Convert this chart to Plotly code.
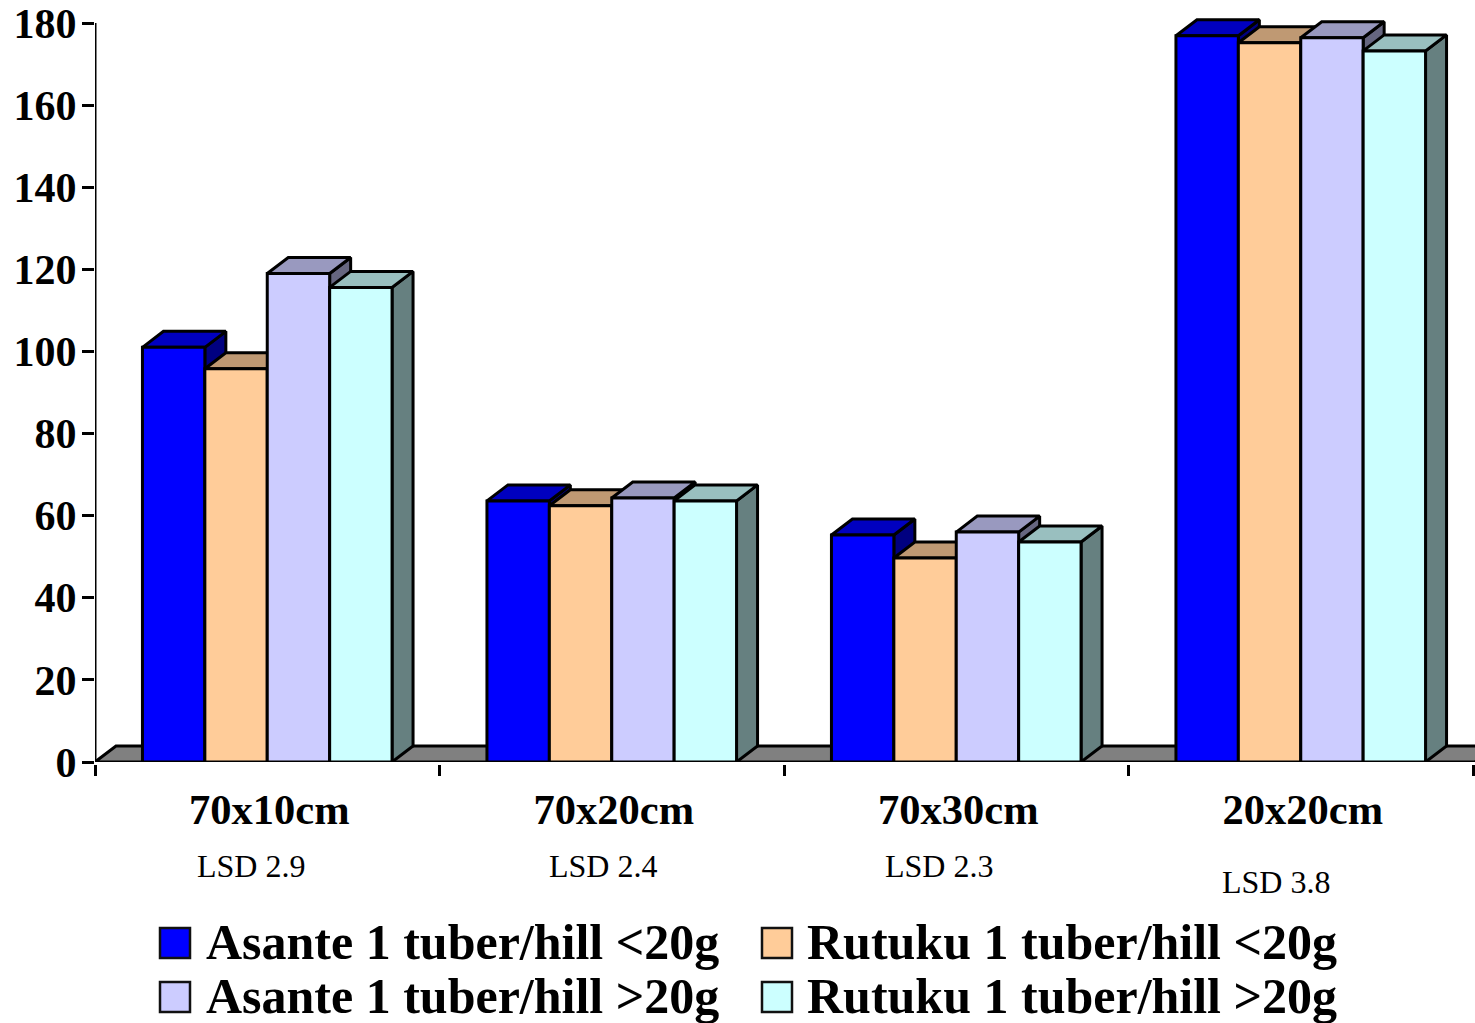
import plotly.graph_objects as go

categories = ["70x10cm", "70x20cm", "70x30cm", "20x20cm"]
lsd_labels = ["LSD 2.9", "LSD 2.4", "LSD 2.3", "LSD 3.8"]
series_names = ["Asante 1 tuber/hill <20g", "Rutuku 1 tuber/hill <20g",
                "Asante 1 tuber/hill >20g", "Rutuku 1 tuber/hill >20g"]
asante_small = [101.0, 63.6, 55.3, 176.9]
rutuku_small = [95.8, 62.4, 49.7, 175.2]
asante_large = [119.0, 64.3, 56.0, 176.4]
rutuku_large = [115.6, 63.6, 53.6, 173.2]
y_ticks = list(range(0, 181, 20))

front = ["#0000FF", "#FFCC99", "#CCCCFF", "#CCFFFF"]
top = ["#0000C0", "#BF9973", "#9999BF", "#99BFBF"]
side = ["#000080", "#806650", "#666680", "#668080"]
values = [asante_small, rutuku_small, asante_large, rutuku_large]

W, H = 1475, 1023
L, B = 95, 261
Y180 = 23                 # pixel row of the value 180
T = 8                     # plot area starts above it so the bar tops are not clipped
PX_X = 344.5
PX_Y = (H - B - Y180) / 180
Y_TOP = (H - B - T) / PX_Y
BAR = 62.4 / PX_X
DX = 21 / PX_X
DY = 16 / PX_Y
X_MAX = 0.5 + (W - L) / PX_X
LW = 3
SERIF = "Liberation Serif"
groups = [1, 2, 3, 4]

fig = go.Figure()


def poly(xs, ys, fill, z):
    fig.add_trace(go.Scatter(x=xs, y=ys, mode="lines", fill="toself", fillcolor=fill,
                             line=dict(color="black", width=LW), cliponaxis=False,
                             showlegend=False, hoverinfo="skip", zorder=z))


# floor
poly([0.5, 0.5 + DX, X_MAX + DX, X_MAX, 0.5], [0, DY, DY, 0, 0], "#808080", 0)

for s, vals in enumerate(values):
    offs = [g - 2 * BAR + s * BAR for g in groups]
    tx, ty, sx, sy = [], [], [], []
    for x0, v in zip(offs, vals):
        x1 = x0 + BAR
        tx += [x0, x0 + DX, x1 + DX, x1, x0, None]
        ty += [v, v + DY, v + DY, v, v, None]
        sx += [x1, x1 + DX, x1 + DX, x1, x1, None]
        sy += [v, v + DY, DY, 0, v, None]
    z = 2 * s + 1
    poly(sx, sy, side[s], z)
    poly(tx, ty, top[s], z)
    fig.add_trace(go.Bar(x=[o + BAR / 2 for o in offs], y=vals, width=BAR, name=series_names[s],
                         marker=dict(color=front[s], line=dict(color="black", width=LW)),
                         cliponaxis=False, showlegend=False, zorder=z + 1))

annotations = []
lsd_x = [0.953, 1.975, 2.951, 3.927]
lsd_y = [866, 866, 866, 882]
PLOT_H = H - T - B
PLOT_W = W - L
for t, x, y in zip(lsd_labels, lsd_x, lsd_y):
    annotations.append(dict(text=t, x=x, y=(H - B - y) / PLOT_H, xref="x", yref="paper", showarrow=False,
                            xanchor="center", yanchor="middle",
                            font=dict(family=SERIF, size=32, color="black")))

shapes = [dict(type="line", xref="x", yref="y", x0=0.5, x1=0.5, y0=0, y1=180,
               line=dict(color="black", width=3), layer="above")]
swatch_px = [(160, 928), (762, 928), (160, 982), (762, 982)]
text_px = [(204, 942), (805, 942), (204, 996), (805, 996)]
for s in range(4):
    sx0, sy0 = swatch_px[s]
    shapes.append(dict(type="rect", xref="paper", yref="paper",
                       x0=(sx0 - L) / PLOT_W, x1=(sx0 + 30 - L) / PLOT_W,
                       y0=(H - B - sy0) / PLOT_H, y1=(H - B - sy0 - 30) / PLOT_H,
                       fillcolor=front[s], line=dict(color="#111111", width=2.5)))
    tx0, ty0 = text_px[s]
    annotations.append(dict(text=series_names[s].replace("<", "&lt;").replace(">", "&gt;"),
                            xref="paper", yref="paper",
                            x=(tx0 - L) / PLOT_W, y=(H - B - ty0) / PLOT_H,
                            xanchor="left", yanchor="middle", showarrow=False,
                            font=dict(family=SERIF, size=50, color="black", weight="bold")))

fig.update_layout(
    width=W, height=H, barmode="overlay", plot_bgcolor="white", paper_bgcolor="white",
    margin=dict(l=L, r=0, t=T, b=B, autoexpand=False), showlegend=False,
    annotations=annotations, shapes=shapes,
    xaxis=dict(range=[0.5, X_MAX], tickmode="array", tickvals=[g + 0.006 for g in groups], ticktext=categories,
               ticks="", showgrid=False, zeroline=False, showline=True, linecolor="black", linewidth=3,
               tickfont=dict(family=SERIF, size=42.5, color="black", weight="bold"),
               ticklabelstandoff=8,
               minor=dict(tickmode="array", tickvals=[0.5, 1.5, 2.5, 3.5, 4.5], ticks="outside",
                          ticklen=11, tickwidth=3, tickcolor="black", showgrid=False)),
    yaxis=dict(range=[0, Y_TOP], tickmode="array", tickvals=y_ticks, ticks="outside",
               ticklen=12, tickwidth=3, tickcolor="black", showgrid=False, zeroline=False,
               showline=False, ticklabelstandoff=-3,
               tickfont=dict(family=SERIF, size=42, color="black", weight="bold")),
)

fig.write_html("out.html", config={"displayModeBar": False},
               post_script="document.body.style.margin='0';document.body.style.overflow='hidden';")
